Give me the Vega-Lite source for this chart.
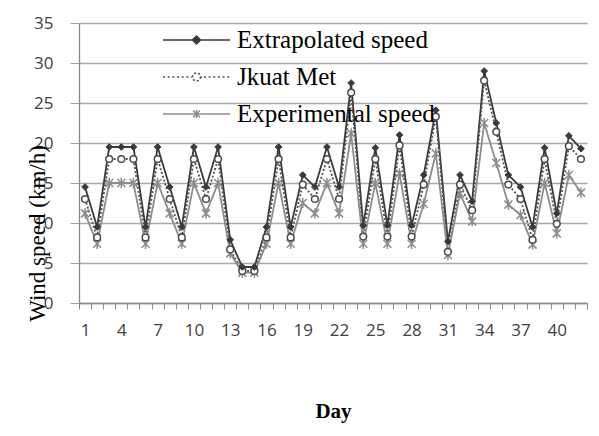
{
  "$schema": "https://vega.github.io/schema/vega-lite/v6.json",
  "autosize": "none",
  "width": 508,
  "height": 280,
  "padding": {"left": 79, "top": 23, "right": 12, "bottom": 133},
  "background": "white",
  "config": {"view": {"stroke": null}},
  "data": {"values": [
    {"day":1,"series":"Extrapolated speed","value":14.5},{"day":1,"series":"Jkuat Met","value":13},{"day":1,"series":"Experimental speed","value":11.2},
    {"day":2,"series":"Extrapolated speed","value":9.5},{"day":2,"series":"Jkuat Met","value":8.2},{"day":2,"series":"Experimental speed","value":7.4},
    {"day":3,"series":"Extrapolated speed","value":19.5},{"day":3,"series":"Jkuat Met","value":18},{"day":3,"series":"Experimental speed","value":15},
    {"day":4,"series":"Extrapolated speed","value":19.5},{"day":4,"series":"Jkuat Met","value":18},{"day":4,"series":"Experimental speed","value":15},
    {"day":5,"series":"Extrapolated speed","value":19.5},{"day":5,"series":"Jkuat Met","value":18},{"day":5,"series":"Experimental speed","value":15},
    {"day":6,"series":"Extrapolated speed","value":9.5},{"day":6,"series":"Jkuat Met","value":8.2},{"day":6,"series":"Experimental speed","value":7.4},
    {"day":7,"series":"Extrapolated speed","value":19.5},{"day":7,"series":"Jkuat Met","value":18},{"day":7,"series":"Experimental speed","value":15},
    {"day":8,"series":"Extrapolated speed","value":14.5},{"day":8,"series":"Jkuat Met","value":13},{"day":8,"series":"Experimental speed","value":11.2},
    {"day":9,"series":"Extrapolated speed","value":9.5},{"day":9,"series":"Jkuat Met","value":8.2},{"day":9,"series":"Experimental speed","value":7.4},
    {"day":10,"series":"Extrapolated speed","value":19.5},{"day":10,"series":"Jkuat Met","value":18},{"day":10,"series":"Experimental speed","value":15},
    {"day":11,"series":"Extrapolated speed","value":14.5},{"day":11,"series":"Jkuat Met","value":13},{"day":11,"series":"Experimental speed","value":11.2},
    {"day":12,"series":"Extrapolated speed","value":19.5},{"day":12,"series":"Jkuat Met","value":18},{"day":12,"series":"Experimental speed","value":15},
    {"day":13,"series":"Extrapolated speed","value":7.9},{"day":13,"series":"Jkuat Met","value":6.7},{"day":13,"series":"Experimental speed","value":6.2},
    {"day":14,"series":"Extrapolated speed","value":4.5},{"day":14,"series":"Jkuat Met","value":4},{"day":14,"series":"Experimental speed","value":3.8},
    {"day":15,"series":"Extrapolated speed","value":4.5},{"day":15,"series":"Jkuat Met","value":4},{"day":15,"series":"Experimental speed","value":3.8},
    {"day":16,"series":"Extrapolated speed","value":9.5},{"day":16,"series":"Jkuat Met","value":8.2},{"day":16,"series":"Experimental speed","value":7.4},
    {"day":17,"series":"Extrapolated speed","value":19.5},{"day":17,"series":"Jkuat Met","value":18},{"day":17,"series":"Experimental speed","value":15},
    {"day":18,"series":"Extrapolated speed","value":9.5},{"day":18,"series":"Jkuat Met","value":8.2},{"day":18,"series":"Experimental speed","value":7.4},
    {"day":19,"series":"Extrapolated speed","value":16},{"day":19,"series":"Jkuat Met","value":14.8},{"day":19,"series":"Experimental speed","value":12.5},
    {"day":20,"series":"Extrapolated speed","value":14.5},{"day":20,"series":"Jkuat Met","value":13},{"day":20,"series":"Experimental speed","value":11.2},
    {"day":21,"series":"Extrapolated speed","value":19.5},{"day":21,"series":"Jkuat Met","value":18},{"day":21,"series":"Experimental speed","value":15},
    {"day":22,"series":"Extrapolated speed","value":14.5},{"day":22,"series":"Jkuat Met","value":13},{"day":22,"series":"Experimental speed","value":11.2},
    {"day":23,"series":"Extrapolated speed","value":27.5},{"day":23,"series":"Jkuat Met","value":26.3},{"day":23,"series":"Experimental speed","value":21.2},
    {"day":24,"series":"Extrapolated speed","value":9.7},{"day":24,"series":"Jkuat Met","value":8.3},{"day":24,"series":"Experimental speed","value":7.4},
    {"day":25,"series":"Extrapolated speed","value":19.4},{"day":25,"series":"Jkuat Met","value":18},{"day":25,"series":"Experimental speed","value":15},
    {"day":26,"series":"Extrapolated speed","value":9.7},{"day":26,"series":"Jkuat Met","value":8.3},{"day":26,"series":"Experimental speed","value":7.4},
    {"day":27,"series":"Extrapolated speed","value":21},{"day":27,"series":"Jkuat Met","value":19.7},{"day":27,"series":"Experimental speed","value":16.2},
    {"day":28,"series":"Extrapolated speed","value":9.7},{"day":28,"series":"Jkuat Met","value":8.3},{"day":28,"series":"Experimental speed","value":7.4},
    {"day":29,"series":"Extrapolated speed","value":16},{"day":29,"series":"Jkuat Met","value":14.8},{"day":29,"series":"Experimental speed","value":12.4},
    {"day":30,"series":"Extrapolated speed","value":24.1},{"day":30,"series":"Jkuat Met","value":23.3},{"day":30,"series":"Experimental speed","value":18.7},
    {"day":31,"series":"Extrapolated speed","value":7.7},{"day":31,"series":"Jkuat Met","value":6.4},{"day":31,"series":"Experimental speed","value":6},
    {"day":32,"series":"Extrapolated speed","value":16},{"day":32,"series":"Jkuat Met","value":14.8},{"day":32,"series":"Experimental speed","value":13.7},
    {"day":33,"series":"Extrapolated speed","value":12.7},{"day":33,"series":"Jkuat Met","value":11.6},{"day":33,"series":"Experimental speed","value":10.2},
    {"day":34,"series":"Extrapolated speed","value":29},{"day":34,"series":"Jkuat Met","value":27.8},{"day":34,"series":"Experimental speed","value":22.5},
    {"day":35,"series":"Extrapolated speed","value":22.5},{"day":35,"series":"Jkuat Met","value":21.4},{"day":35,"series":"Experimental speed","value":17.5},
    {"day":36,"series":"Extrapolated speed","value":16},{"day":36,"series":"Jkuat Met","value":14.8},{"day":36,"series":"Experimental speed","value":12.3},
    {"day":37,"series":"Extrapolated speed","value":14.5},{"day":37,"series":"Jkuat Met","value":13},{"day":37,"series":"Experimental speed","value":11},
    {"day":38,"series":"Extrapolated speed","value":9.5},{"day":38,"series":"Jkuat Met","value":7.9},{"day":38,"series":"Experimental speed","value":7.3},
    {"day":39,"series":"Extrapolated speed","value":19.4},{"day":39,"series":"Jkuat Met","value":18},{"day":39,"series":"Experimental speed","value":15},
    {"day":40,"series":"Extrapolated speed","value":11.2},{"day":40,"series":"Jkuat Met","value":9.9},{"day":40,"series":"Experimental speed","value":8.7},
    {"day":41,"series":"Extrapolated speed","value":20.9},{"day":41,"series":"Jkuat Met","value":19.6},{"day":41,"series":"Experimental speed","value":16},
    {"day":42,"series":"Extrapolated speed","value":19.3},{"day":42,"series":"Jkuat Met","value":18},{"day":42,"series":"Experimental speed","value":13.8}
  ]},
  "encoding": {
    "x": {
      "field": "day", "type": "ordinal", "bandPosition": 0.5,
      "scale": {"type": "band", "paddingInner": 0, "paddingOuter": 0},
      "axis": {
        "title": "Day", "labelAngle": 0, "labelOverlap": false,
        "labelExpr": "(datum.value - 1) % 3 === 0 ? datum.label : ''",
        "labelFont": "Open Sans", "labelFontSize": 17, "labelColor": "#404040", "labelPadding": 13,
        "tickBand": "extent", "tickSize": 6, "tickColor": "#8a8a8a", "domainColor": "#8a8a8a", "domainWidth": 1.3,
        "grid": false,
        "titleFont": "Liberation Serif", "titleFontSize": 21, "titleFontWeight": "bold", "titleColor": "#000000",
        "titleBaseline": "alphabetic", "titleY": 114, "titlePadding": 0
      }
    },
    "y": {
      "field": "value", "type": "quantitative",
      "scale": {"domain": [0, 35], "nice": false, "zero": true},
      "axis": {
        "title": "Wind speed (km/h)", "values": [0,5,10,15,20,25,30,35],
        "labelFont": "Open Sans", "labelFontSize": 17, "labelColor": "#404040", "labelPadding": 17,
        "tickSize": 9, "tickColor": "#a0a0a0", "domainColor": "#8a8a8a", "domainWidth": 1.3,
        "grid": true, "gridColor": "#a8a8a8", "gridWidth": 1.3,
        "titleFont": "Liberation Serif", "titleFontSize": 23, "titleFontWeight": "normal", "titleColor": "#000000",
        "titleAngle": -90, "titleAlign": "center", "titleBaseline": "middle", "titleX": -42, "titleY": 210
      }
    }
  },
  "layer": [
    {
      "mark": {"type": "line", "strokeWidth": 1.8},
      "encoding": {
        "color": {
          "field": "series", "type": "nominal",
          "scale": {"domain": ["Extrapolated speed", "Jkuat Met", "Experimental speed"], "range": ["#3a3a3a", "#505050", "#8c8c8c"]},
          "legend": {
            "title": null, "orient": "none", "legendX": 100, "legendY": -0.5, "padding": 0,
            "symbolSize": 1122, "symbolStrokeWidth": 1.5,
            "labelFont": "Liberation Serif", "labelFontSize": 25, "labelColor": "#000000", "labelLimit": 400, "labelOffset": 23,
            "rowPadding": 6,
            "encode": {"symbols": {"update": {
              "shape": {"signal": "datum.value === 'Extrapolated speed' ? 'M-2,0H2M0,-0.24L0.24,0L0,0.24L-0.24,0Z' : datum.value === 'Jkuat Met' ? 'M-2,0H-1.84M-1.72,0H-1.56M-1.44,0H-1.28M-1.16,0H-1M-0.88,0H-0.72M-0.6,0H-0.44M-0.32,0H-0.26M0.26,0H0.32M0.44,0H0.6M0.72,0H0.88M1,0H1.16M1.28,0H1.44M1.56,0H1.72M1.84,0H2M0.24,0A0.24,0.24 0 1,1 -0.24,0A0.24,0.24 0 1,1 0.24,0Z' : 'M-2,0H2M-0.2,-0.2L0.2,0.2M-0.2,0.2L0.2,-0.2M0,-0.26V0.26'"},
              "fill": {"signal": "datum.value === 'Extrapolated speed' ? '#3a3a3a' : datum.value === 'Jkuat Met' ? '#ffffff' : 'transparent'"},
              "stroke": {"signal": "datum.value === 'Extrapolated speed' ? '#3a3a3a' : datum.value === 'Jkuat Met' ? '#505050' : '#8c8c8c'"},
              "strokeWidth": {"value": 1.5},
              "strokeDash": {"value": [1, 0]},
              "opacity": {"value": 1}
            }}}
          }
        },
        "strokeDash": {
          "field": "series", "type": "nominal",
          "scale": {"domain": ["Extrapolated speed", "Jkuat Met", "Experimental speed"], "range": [[1, 0], [2, 2], [1, 0]]},
          "legend": null
        }
      }
    },
    {
      "transform": [{"filter": "datum.series === 'Experimental speed'"}],
      "mark": {"type": "point", "shape": "M-1,-1L1,1M-1,1L1,-1M0,-1.3V1.3", "size": 64, "filled": false, "stroke": "#8c8c8c", "strokeWidth": 1.5, "opacity": 1}
    },
    {
      "transform": [{"filter": "datum.series === 'Jkuat Met'"}],
      "mark": {"type": "point", "shape": "circle", "size": 45, "filled": true, "fill": "#ffffff", "stroke": "#4a4a4a", "strokeWidth": 1.5, "opacity": 1}
    },
    {
      "transform": [{"filter": "datum.series === 'Extrapolated speed'"}],
      "mark": {"type": "point", "shape": "diamond", "size": 45, "filled": true, "fill": "#3a3a3a", "stroke": "#3a3a3a", "strokeWidth": 1, "opacity": 1}
    }
  ]
}
